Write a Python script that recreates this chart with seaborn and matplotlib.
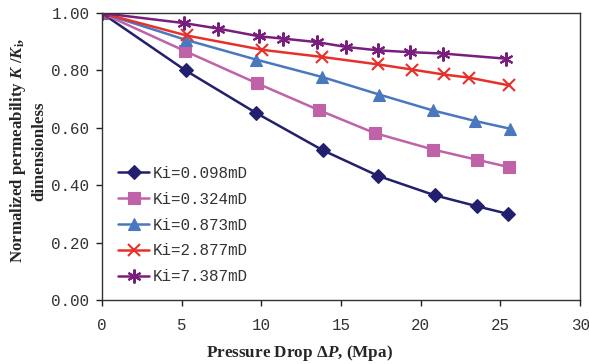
import numpy as np
import pandas as pd
import matplotlib
matplotlib.use("Agg")
import matplotlib.pyplot as plt
import seaborn as sns

labels = ["Ki=0.098mD", "Ki=0.324mD", "Ki=0.873mD", "Ki=2.877mD", "Ki=7.387mD"]

x_098 = [0, 5.25, 9.67, 13.85, 17.35, 20.87, 23.5, 25.47]
y_098 = [1.00, 0.800, 0.652, 0.522, 0.432, 0.365, 0.327, 0.300]

x_324 = [0, 5.2, 9.7, 13.64, 17.1, 20.8, 23.5, 25.55]
y_324 = [1.00, 0.868, 0.756, 0.661, 0.582, 0.524, 0.489, 0.463]

x_873 = [0, 5.25, 9.67, 13.83, 17.4, 20.74, 23.4, 25.6]
y_873 = [1.00, 0.907, 0.838, 0.777, 0.716, 0.661, 0.624, 0.597]

x_2877 = [0, 5.31, 10.06, 13.83, 17.35, 19.48, 21.43, 23.04, 25.55]
y_2877 = [1.00, 0.922, 0.872, 0.847, 0.821, 0.803, 0.786, 0.775, 0.748]

x_7387 = [0, 5.17, 7.3, 9.87, 11.38, 13.47, 15.32, 17.35, 19.3, 21.4, 25.36]
y_7387 = [1.00, 0.965, 0.946, 0.919, 0.911, 0.899, 0.882, 0.870, 0.864, 0.859, 0.841]

xs = [x_098, x_324, x_873, x_2877, x_7387]
ys = [y_098, y_324, y_873, y_2877, y_7387]

frames = []
for lab, xv, yv in zip(labels, xs, ys):
    frames.append(pd.DataFrame({"dp": xv, "k": yv, "series": lab}))
df = pd.concat(frames, ignore_index=True)

colors = ["#22206E", "#C062A8", "#4A78BE", "#E8302A", "#7A1E7E"]
markers = ["D", "s", "^", "x", (6, 2, 0)]
msizes = [7, 9, 9, 9, 10]

sns.set_style("white")
plt.rcParams["mathtext.fontset"] = "custom"
plt.rcParams["mathtext.it"] = "Liberation Serif:italic:bold"
plt.rcParams["mathtext.rm"] = "Liberation Serif:bold"
plt.rcParams["mathtext.bf"] = "Liberation Serif:bold"

fig = plt.figure(figsize=(5.89, 3.64), dpi=100)
ax = fig.add_axes([0.173, 0.176, 0.812, 0.788])

for lab, c, m, ms in zip(labels, colors, markers, msizes):
    sub = df[df["series"] == lab]
    sns.lineplot(data=sub, x="dp", y="k", ax=ax, color=c, marker=m,
                 markersize=ms, linewidth=1.8, label=lab, sort=False,
                 markeredgecolor=c,
                 markeredgewidth=1.5 if (m == "x" or isinstance(m, tuple)) else 0.8,
                 legend=True)

ax.set_xlim(0, 30)
ax.set_ylim(0, 1.0)
ax.set_xticks(range(0, 31, 5))
ax.set_yticks(np.arange(0, 1.01, 0.2))
ax.set_yticklabels([f"{v:.2f}" for v in np.arange(0, 1.01, 0.2)])
ax.tick_params(axis="both", direction="out", length=4, width=1, colors="#222222",
               labelsize=11.4, bottom=True, left=True)
ax.tick_params(axis="x", pad=9)
ax.tick_params(axis="y", pad=5)
for t in ax.get_xticklabels() + ax.get_yticklabels():
    t.set_fontfamily("Liberation Mono")
    t.set_color("#333333")
for s in ax.spines.values():
    s.set_visible(True)
    s.set_color("#333333")
    s.set_linewidth(1.0)

ax.set_xlabel(r"Pressure Drop $\Delta P$, (Mpa)", fontfamily="Liberation Serif",
              fontweight="bold", fontsize=12.3)
ax.xaxis.set_label_coords(0.414, -0.15)
ax.set_ylabel("Normalized permeability $K$ /$K$$_{\\rm i}$,\ndimensionless",
              fontfamily="Liberation Serif", fontweight="bold", fontsize=12.2,
              linespacing=1.35)
ax.yaxis.set_label_coords(-0.113, 0.52)

leg = ax.legend(loc="lower left", bbox_to_anchor=(0.0, 0.0), frameon=False,
                prop={"family": "Liberation Mono", "size": 11.4},
                handlelength=2.0, handletextpad=0.2, labelspacing=0.68,
                borderaxespad=0.6)
for txt in leg.get_texts():
    txt.set_color("#333333")

fig.savefig("out.png", dpi=100)
